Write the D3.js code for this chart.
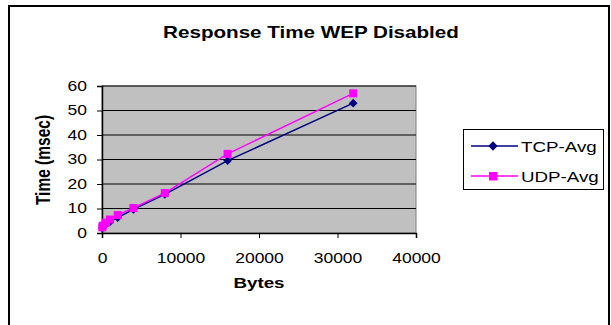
<!DOCTYPE html>
<html>
<head>
<meta charset="utf-8">
<script src="https://cdn.jsdelivr.net/npm/d3@7"></script>
<style>
  body { margin: 0; background: #fff; }
  text { font-family: Arial, "Liberation Sans", sans-serif; }
</style>
</head>
<body>
<script>
// chart data
var bytes = [32, 100, 500, 1000, 2000, 4000, 8000, 16000, 32000];
var tcpAvg = [2, 2.5, 3.5, 4.5, 6.3, 9.6, 15.8, 29.5, 53];
var udpAvg = [2.3, 3, 4.2, 5.5, 7.3, 10.2, 16.3, 32.3, 57];
var xTicks = [0, 10000, 20000, 30000, 40000];
var yTicks = [0, 10, 20, 30, 40, 50, 60];
var seriesNames = ['TCP-Avg', 'UDP-Avg'];

var width = 611, height = 325;
var plot = { left: 102, top: 86, right: 416, bottom: 233 };
var stretch = 1.25; // the original text is drawn wide

var svg = d3.select('body').append('svg')
  .attr('width', width)
  .attr('height', height);

// outer frame
svg.append('rect')
  .attr('x', 9).attr('y', 6)
  .attr('width', 600).attr('height', 330)
  .attr('fill', '#fff')
  .attr('stroke', '#000')
  .attr('stroke-width', 2);

var x = d3.scaleLinear().domain([0, 40000]).range([plot.left, plot.right]);
var y = d3.scaleLinear().domain([0, 60]).range([plot.bottom, plot.top]);

// plot area
svg.append('rect')
  .attr('x', plot.left).attr('y', plot.top)
  .attr('width', plot.right - plot.left)
  .attr('height', plot.bottom - plot.top)
  .attr('fill', '#c0c0c0')
  .attr('stroke', '#808080')
  .attr('stroke-width', 1);

// gridlines
svg.append('g').selectAll('line').data(yTicks.filter(function(d) { return d > 0; }))
  .enter().append('line')
  .attr('x1', plot.left).attr('x2', plot.right)
  .attr('y1', function(d) { return y(d); })
  .attr('y2', function(d) { return y(d); })
  .attr('stroke', '#000')
  .attr('stroke-width', 1);

// axes
var xAxis = svg.append('g')
  .attr('transform', 'translate(0,' + plot.bottom + ')')
  .call(d3.axisBottom(x).tickValues(xTicks).tickSize(5).tickPadding(15).tickFormat(d3.format('d')));
var yAxis = svg.append('g')
  .attr('transform', 'translate(' + plot.left + ',0)')
  .call(d3.axisLeft(y).tickValues(yTicks).tickSize(5).tickPadding(10));

[xAxis, yAxis].forEach(function(a) {
  a.select('.domain').attr('stroke', '#000').attr('stroke-width', 1.5);
  a.selectAll('.tick line').attr('stroke', '#000');
  a.selectAll('.tick text')
    .attr('fill', '#000')
    .attr('transform', 'scale(' + stretch + ',1)')
    .style('font-size', '14px')
    .style('font-family', 'Arial, "Liberation Sans", sans-serif');
});
yAxis.selectAll('.tick text').attr('x', -15 / stretch);

// lines
var tcp = bytes.map(function(b, i) { return { x: b, y: tcpAvg[i] }; });
var udp = bytes.map(function(b, i) { return { x: b, y: udpAvg[i] }; });
var line = d3.line()
  .x(function(d) { return x(d.x); })
  .y(function(d) { return y(d.y); });

svg.append('path').datum(tcp)
  .attr('d', line)
  .attr('fill', 'none')
  .attr('stroke', '#000080')
  .attr('stroke-width', 1.4);

svg.append('path').datum(udp)
  .attr('d', line)
  .attr('fill', 'none')
  .attr('stroke', '#ff00ff')
  .attr('stroke-width', 1.4);

var diamond = d3.symbol().type(d3.symbolDiamond2).size(48);

svg.append('g').selectAll('path').data(tcp)
  .enter().append('path')
  .attr('d', diamond)
  .attr('transform', function(d) { return 'translate(' + x(d.x) + ',' + y(d.y) + ')'; })
  .attr('fill', '#000080');

svg.append('g').selectAll('rect').data(udp)
  .enter().append('rect')
  .attr('x', function(d) { return x(d.x) - 4; })
  .attr('y', function(d) { return y(d.y) - 4; })
  .attr('width', 8).attr('height', 8)
  .attr('fill', '#ff00ff');

// titles
var label = function(tx, ty, size, txt, rotate) {
  return svg.append('text')
    .attr('transform', 'translate(' + tx + ',' + ty + ') scale(' + stretch + ',1)' + (rotate ? ' rotate(-90)' : ''))
    .attr('text-anchor', 'middle')
    .style('font-size', size + 'px')
    .style('font-weight', 'bold')
    .text(txt);
};

label(311, 38, 16.5, 'Response Time WEP Disabled');
label(259, 288, 15, 'Bytes');
label(43, 160, 15.5, 'Time (msec)', true).attr('dy', '0.35em');

// legend
var legend = svg.append('g');
legend.append('rect')
  .attr('x', 463.5).attr('y', 129.5)
  .attr('width', 140).attr('height', 60)
  .attr('fill', '#fff')
  .attr('stroke', '#000')
  .attr('stroke-width', 1);

var colors = ['#000080', '#ff00ff'];
var items = legend.selectAll('g.item').data(seriesNames)
  .enter().append('g')
  .attr('class', 'item')
  .attr('transform', function(d, i) { return 'translate(0,' + (146 + i * 30) + ')'; });

items.append('line')
  .attr('x1', 471).attr('x2', 518)
  .attr('stroke', function(d, i) { return colors[i]; })
  .attr('stroke-width', 1.4);

items.filter(function(d, i) { return i === 0; }).append('path')
  .attr('d', d3.symbol().type(d3.symbolDiamond2).size(56))
  .attr('transform', 'translate(493,0)')
  .attr('fill', colors[0]);

items.filter(function(d, i) { return i === 1; }).append('rect')
  .attr('x', 489).attr('y', -4)
  .attr('width', 8.5).attr('height', 8.5)
  .attr('fill', colors[1]);

items.append('text')
  .attr('transform', 'translate(521,5.5) scale(' + stretch + ',1)')
  .style('font-size', '15px')
  .text(function(d) { return d; });
</script>
</body>
</html>
